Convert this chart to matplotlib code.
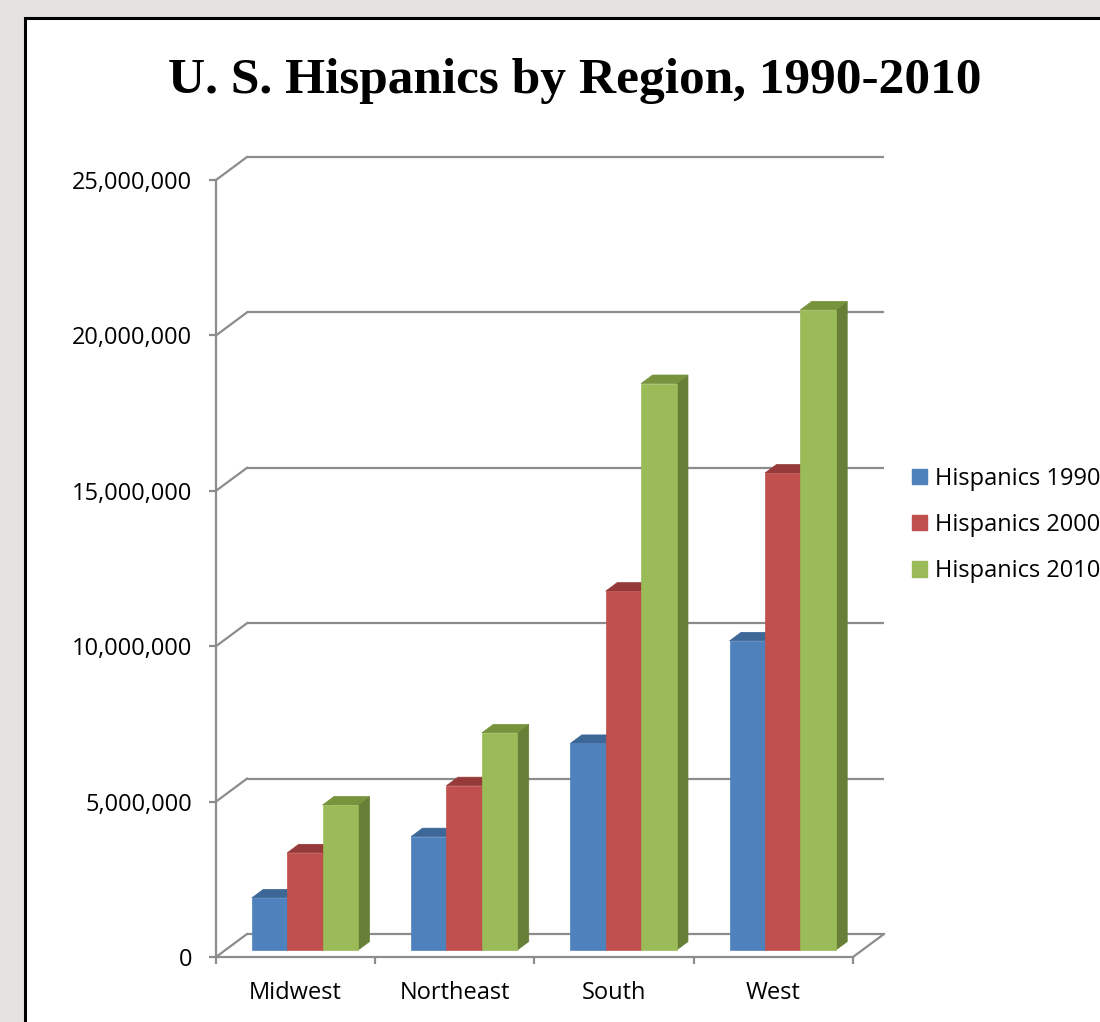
import numpy as np
import matplotlib
matplotlib.use('Agg')
import matplotlib.pyplot as plt
from matplotlib.patches import Polygon, Rectangle, Patch
from matplotlib.ticker import FuncFormatter

# Hispanic population by census region
regions = ['Midwest', 'Northeast', 'South', 'West']
series = ['Hispanics 1990', 'Hispanics 2000', 'Hispanics 2010']
hisp_1990 = [1680000, 3650000, 6650000, 9950000]
hisp_2000 = [3130000, 5290000, 11550000, 15350000]
hisp_2010 = [4670000, 6990000, 18230000, 20600000]
yticks = [0, 5000000, 10000000, 15000000, 20000000, 25000000]

# face colours: front, top, side
front_cols = ['#4F81BD', '#C0504D', '#9BBB59']
top_cols = ['#3C6797', '#953A38', '#77933C']
side_cols = ['#385D8A', '#8A3634', '#677E37']

grid_col = '#8C8C8C'
W, H = 1100, 1022
fig = plt.figure(figsize=(W / 100, H / 100), dpi=100, facecolor='#E5E3E0')

# white panel with black frame
fig.patches.append(Rectangle((25 / W, -0.05), 1.1, 1 - 18 / H + 0.05, transform=fig.transFigure,
                             facecolor='white', edgecolor='black', linewidth=2.2, zorder=-5))

fig.text(575 / W, 1 - 93 / H, 'U. S. Hispanics by Region, 1990-2010', ha='center', va='baseline',
         family='Liberation Serif', fontweight='bold', fontsize=37)

ax = fig.add_axes([216 / W, 65 / H, 668 / W, 800 / H])
ax.set_facecolor('none')
ax.set_zorder(2)

# oblique depth offset of the back wall (x in categories, y in people)
DX = 0.1947
DY = 740000
ymax = yticks[-1]
ax.set_xlim(-0.5, len(regions) - 0.5 + DX)
ax.set_ylim(0, ymax + DY)

# back wall gridlines and side wall diagonals
for v in yticks:
    ax.plot([-0.5 + DX, len(regions) - 0.5 + DX], [v + DY, v + DY], color=grid_col, lw=1.6,
            zorder=1, clip_on=False, solid_capstyle='butt')
    ax.plot([-0.5, -0.5 + DX], [v, v + DY], color=grid_col, lw=1.6, zorder=1, clip_on=False)
# right edge of the floor
ax.plot([len(regions) - 0.5, len(regions) - 0.5 + DX], [0, DY], color=grid_col, lw=1.6,
        zorder=1, clip_on=False)

# 3d columns
values = [hisp_1990, hisp_2000, hisp_2010]
bw = 0.2222
f0, f1 = 0.30, 0.67
for i in range(len(regions)):
    for j in range(len(series)):
        v = values[j][i]
        x0 = i - 1.5 * bw + j * bw
        x1 = x0 + bw
        sx0, sy0 = f0 * DX, f0 * DY
        sx1, sy1 = f1 * DX, f1 * DY
        side = Polygon([(x1 + sx0, sy0), (x1 + sx1, sy1), (x1 + sx1, v + sy1), (x1 + sx0, v + sy0)],
                       closed=True, facecolor=side_cols[j], edgecolor=side_cols[j], lw=0.5, zorder=3)
        top = Polygon([(x0 + sx0, v + sy0), (x1 + sx0, v + sy0), (x1 + sx1, v + sy1), (x0 + sx1, v + sy1)],
                      closed=True, facecolor=top_cols[j], edgecolor=top_cols[j], lw=0.5, zorder=3)
        front = Rectangle((x0 + sx0, sy0), bw, v, facecolor=front_cols[j], edgecolor=front_cols[j],
                          lw=0.5, zorder=3)
        ax.add_patch(side)
        ax.add_patch(top)
        ax.add_patch(front)

# axes
for s in ['top', 'right']:
    ax.spines[s].set_visible(False)
ax.spines['left'].set_bounds(0, ymax)
ax.spines['bottom'].set_bounds(-0.5, len(regions) - 0.5)
for s in ['left', 'bottom']:
    ax.spines[s].set_color(grid_col)
    ax.spines[s].set_linewidth(1.6)
    ax.spines[s].set_zorder(2)

ax.set_yticks(yticks)
ax.yaxis.set_major_formatter(FuncFormatter(lambda v, p: '{:,.0f}'.format(v)))
ax.set_xticks(np.arange(len(regions) + 1) - 0.5)
ax.set_xticklabels([])
ax.set_xticks(np.arange(len(regions)), minor=True)
ax.set_xticklabels(regions, minor=True)
ax.tick_params(axis='both', which='major', direction='out', length=5, width=1.6, color=grid_col)
ax.tick_params(axis='x', which='minor', length=0, pad=17)
ax.tick_params(axis='y', which='major', pad=12)
for lab in ax.get_yticklabels() + ax.get_xticklabels(minor=True):
    lab.set_family('Open Sans')
    lab.set_fontsize(17)

handles = [Patch(facecolor=c, edgecolor=c) for c in front_cols]
fig.legend(handles, series, loc='center left', bbox_to_anchor=(912 / W, 1 - 525 / H),
           frameon=False, borderpad=0, borderaxespad=0, handlelength=0.62, handleheight=0.62,
           handletextpad=0.35, labelspacing=0.95, prop={'family': 'Open Sans', 'size': 17})

plt.savefig('out.png', dpi=100, facecolor=fig.get_facecolor())
